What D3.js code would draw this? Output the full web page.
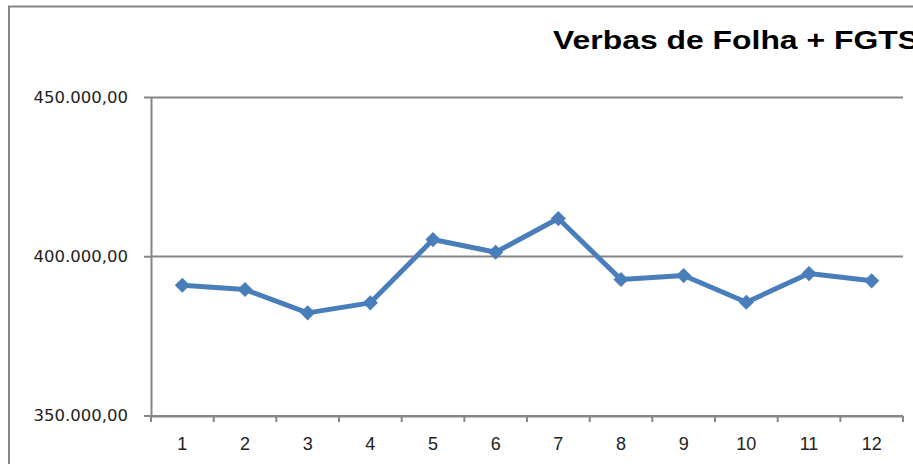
<!DOCTYPE html>
<html>
<head>
<meta charset="utf-8">
<script src="https://cdn.jsdelivr.net/npm/d3@7"></script>
<style>
  body { margin:0; background:#fff; }
  svg { display:block; }
</style>
</head>
<body>
<div id="chart"></div>
<script>
// chart data
var categories = ["1","2","3","4","5","6","7","8","9","10","11","12"]
var values = [390900, 389550, 382230, 385370, 405240, 401260, 411830, 392690, 393940, 385560, 394570, 392280]
var y_ticks = [350000, 400000, 450000]
var title = "Verbas de Folha + FGTS"

var W = 913, H = 464
var gray = "#868686"
var blue = "#4a7ebb"

var svg = d3.select("#chart").append("svg")
    .attr("width", W)
    .attr("height", H)

// outer chart frame (cut off on the right and bottom)
svg.append("rect")
    .attr("x", 9).attr("y", 6.5)
    .attr("width", W + 20).attr("height", H + 20)
    .attr("fill", "none")
    .attr("stroke", gray)
    .attr("stroke-width", 2)

svg.append("text")
    .attr("x", 553).attr("y", 49)
    .attr("textLength", 366)
    .attr("lengthAdjust", "spacingAndGlyphs")
    .style("font-family", "'Liberation Sans Narrow', 'Liberation Sans', sans-serif")
    .style("font-weight", "bold")
    .style("font-size", "26px")
    .style("fill", "#000")
    .text(title)

var x = d3.scaleBand()
    .domain(categories)
    .range([151, 903])

var y = d3.scaleLinear()
    .domain([350000, 450000])
    .range([415.5, 97])

var br = d3.formatLocale({decimal: ",", thousands: ".", grouping: [3], currency: ["R$", ""]})
var fmt = br.format(",.2f")

// gridlines
svg.append("g")
    .selectAll("line")
    .data(y_ticks)
    .join("line")
    .attr("x1", 151).attr("x2", 903)
    .attr("y1", d => Math.round(y(d)) + 0.5)
    .attr("y2", d => Math.round(y(d)) + 0.5)
    .attr("stroke", gray)
    .attr("stroke-width", 2)

// y axis
var yAxis = svg.append("g")
    .attr("transform", "translate(151,0)")
    .call(d3.axisLeft(y).tickValues(y_ticks).tickSize(7).tickSizeOuter(0).tickPadding(16).tickFormat(fmt))
yAxis.select(".domain").attr("stroke", gray).attr("stroke-width", 2)
yAxis.selectAll(".tick line").attr("stroke", gray).attr("stroke-width", 2)
yAxis.selectAll("text")
    .style("font-family", "'DejaVu Sans', sans-serif")
    .style("font-size", "16.5px")
    .style("fill", "#222")

// x axis
var xAxis = svg.append("g")
    .attr("transform", "translate(0,416)")
xAxis.append("line")
    .attr("x1", 151).attr("x2", 903)
    .attr("stroke", gray).attr("stroke-width", 2)
var edges = categories.map(c => x(c)).concat([x(categories[categories.length - 1]) + x.bandwidth()])
xAxis.selectAll(".xtick")
    .data(edges)
    .join("line")
    .attr("class", "xtick")
    .attr("x1", d => d).attr("x2", d => d)
    .attr("y1", 0).attr("y2", 6)
    .attr("stroke", gray).attr("stroke-width", 2)
xAxis.selectAll(".xlab")
    .data(categories)
    .join("text")
    .attr("class", "xlab")
    .attr("x", d => x(d) + x.bandwidth() / 2)
    .attr("y", 34)
    .attr("text-anchor", "middle")
    .style("font-family", "'Liberation Sans Narrow', 'Liberation Sans', sans-serif")
    .style("font-size", "18px")
    .style("fill", "#222")
    .text(d => d)

// series line
var pts = categories.map((c, i) => [x(c) + x.bandwidth() / 2, y(values[i])])
svg.append("path")
    .datum(pts)
    .attr("d", d3.line())
    .attr("fill", "none")
    .attr("stroke", blue)
    .attr("stroke-width", 5)
    .attr("stroke-linejoin", "round")

// diamond markers
svg.append("g")
    .selectAll("path")
    .data(pts)
    .join("path")
    .attr("transform", d => "translate(" + d[0] + "," + d[1] + ") rotate(45)")
    .attr("d", d3.symbol(d3.symbolSquare, 115))
    .attr("fill", blue)
</script>
</body>
</html>
